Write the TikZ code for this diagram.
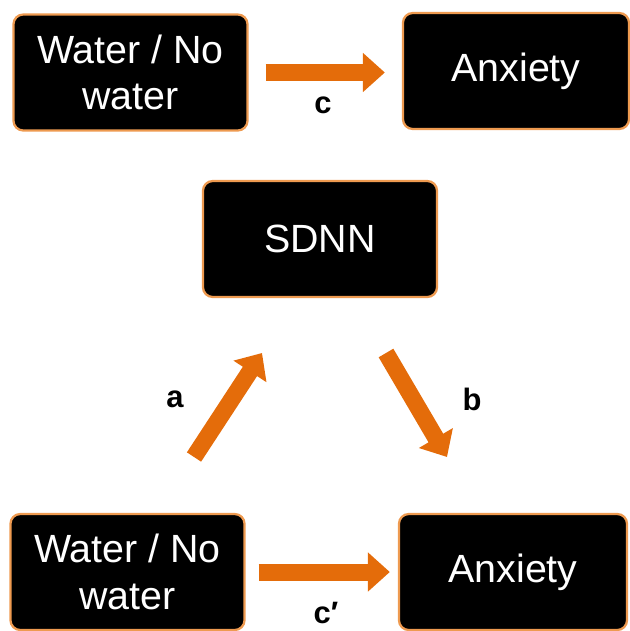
\documentclass[tikz,border=0pt]{standalone}
\usepackage{fontspec}
\setmainfont{Liberation Sans}
\usetikzlibrary{arrows.meta}
\definecolor{arrowcolor}{HTML}{E46C0A}
\definecolor{framecolor}{HTML}{EE9A50}

\begin{document}
\begin{tikzpicture}[x=0.025cm, y=-0.025cm,
		box/.style={draw=framecolor, line width=1.6pt, fill=black, rounded corners=7pt, text=white, align=center, inner sep=0pt, minimum width=5.85cm, minimum height=2.9cm, font=\fontsize{28}{33}\selectfont},
		fatarrow/.style={arrowcolor, line width=0.425cm, -{Triangle[length=0.55cm,width=0.95cm]}},
		lbl/.style={font=\fontsize{22}{26}\selectfont\bfseries}]
		\useasboundingbox (0,0) rectangle (630,631);
		% top row
		\node[box] (w1) at (130.5,72.5) {Water / No\\water};
		\node[box, minimum width=5.65cm] (x1) at (516,71) {Anxiety};
		% middle
		\node[box] (sdnn) at (320,239) {SDNN};
		% bottom row
		\node[box] (w2) at (127.5,572) {Water / No\\water};
		\node[box, minimum width=5.7cm] (x2) at (513,572) {Anxiety};
		\coordinate (a0) at (194,457);
		\coordinate (a1) at (262,353);
		\coordinate (b0) at (386,353);
		\coordinate (b1) at (447,457);
		\draw[fatarrow, shorten <=0.425cm, shorten >=0.425cm] (w1.east) -- (x1.west |- w1.east);
		\draw[fatarrow, shorten <=0.325cm, shorten >=0.2cm] (w2.east) -- (x2.west);
		\draw[fatarrow] (a0) -- (a1);
		\draw[fatarrow] (b0) -- (b1);
		\node[lbl] (lc) at (323,105) {c};
		\node[lbl] (la) at (175,399) {a};
		\node[lbl] (lb) at (472,399) {b};
		\node[lbl] (lcc) at (326,613) {c′};
	\end{tikzpicture}
\end{document}
